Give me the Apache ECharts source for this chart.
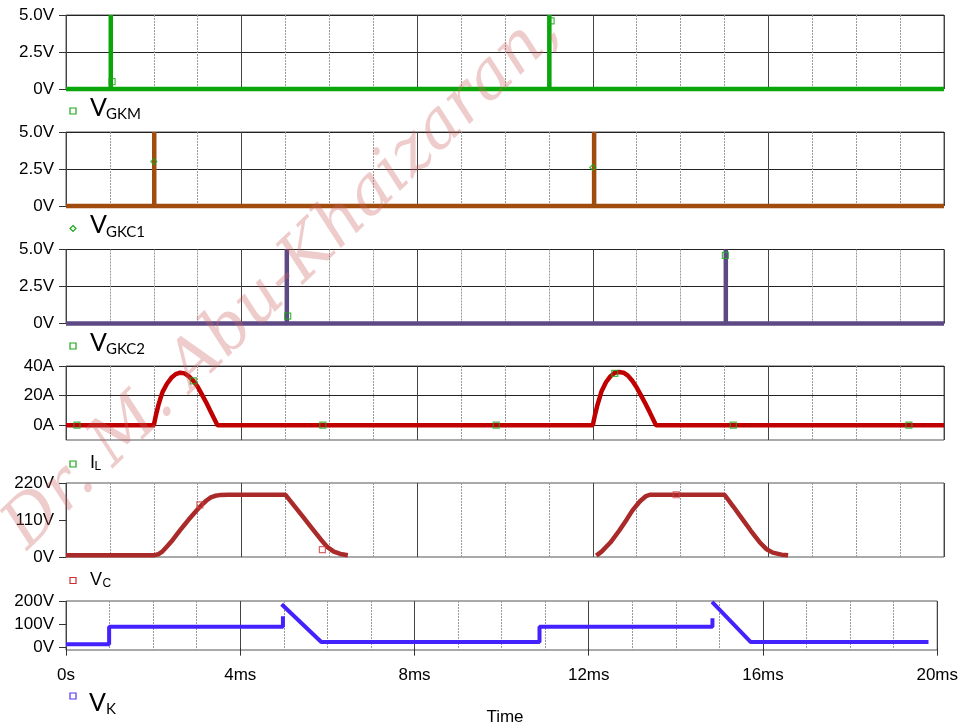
<!DOCTYPE html>
<html>
<head>
<meta charset="utf-8">
<script src="https://cdn.jsdelivr.net/npm/echarts@6/dist/echarts.min.js"></script>
<style>
html,body{margin:0;padding:0;background:#fff;}
#chart{width:961px;height:728px;}
</style>
</head>
<body>
<div id="chart"></div>
<script>
// ---------- DATA (time in ms) ----------
const xTickLabels = ['0s', '4ms', '8ms', '12ms', '16ms', '20ms'];

const vgkmPoints = [[0,0],[1.02,0],[1.02,5],[1.02,0],[11.01,0],[11.01,5],[11.01,0],[20,0]];
const vgkc1Points = [[0,0],[2.01,0],[2.01,5],[2.01,0],[12.03,0],[12.03,5],[12.03,0],[20,0]];
const vgkc2Points = [[0,0],[5.03,0],[5.03,5],[5.03,0],[15.03,0],[15.03,5],[15.03,0],[20,0]];

const ilPoints = [[0,0],[2.0,0],[2.05,7],[2.1,13],[2.15,18],[2.2,22.5],[2.3,28],[2.4,32],[2.5,34.5],[2.6,35.5],
  [2.7,35],[2.8,33],[2.9,30],[3.0,26],[3.1,20.5],[3.2,15],[3.3,9],[3.45,0],
  [12.0,0],[12.05,7],[12.1,13],[12.15,18],[12.2,23],[12.3,29],[12.4,33],[12.5,35.5],[12.6,36],
  [12.7,35.5],[12.8,33.5],[12.9,30],[13.0,25.5],[13.1,20],[13.2,14.5],[13.3,8.5],[13.44,0],[20,0]];

const vcPoints = [[0,5],[2.0,5],[2.1,8],[2.2,17],[2.3,31],[2.4,46],[2.5,63],[2.6,80],[2.7,96],[2.8,112],
  [2.9,127],[3.0,142],[3.1,156],[3.2,168],[3.3,177],[3.4,182],[3.5,184],[3.7,185],[5.0,185],
  [5.2,152],[5.4,119],[5.6,86],[5.8,53],[5.95,30],[6.1,16],[6.25,9],[6.42,5],[6.43,null],
  [12.08,4],[12.2,16],[12.4,43],[12.6,78],[12.77,111],[12.9,138],[13.07,165],[13.2,180],[13.3,185],[15.0,185],
  [15.2,150],[15.4,114],[15.6,78],[15.8,44],[15.95,24],[16.1,13],[16.3,7],[16.45,5]];

const vkPoints = [[0,15],[0.99,15],[0.99,90],[4.98,90],[4.98,135],[4.99,null],
  [4.95,186],[5.86,24],[10.87,24],[10.87,90],[14.84,90],[14.84,126],[14.85,null],
  [14.83,196],[15.72,24],[19.8,24]];

const vgkmMarkers = [[1.05,0.5],[11.05,4.6]];
const vgkc1Markers = [[2.0,3.0],[12.0,2.6]];
const vgkc2Markers = [[5.05,0.5],[15.02,4.6]];
const ilMarkers = [[0.25,0],[2.9,30],[5.85,0],[9.8,0],[12.5,35],[15.2,0],[19.2,0]];
const vcMarkers = [[3.05,155],[5.84,22],[13.9,185]];

const legendMain = ['V','V','V','I','V','V'];
const legendSub = ['GKM','GKC1','GKC2','L','C','K'];

// ---------- LAYOUT ----------
const L = 66, R = 17;
const grids = [
  {top:15, height:74},
  {top:132, height:74},
  {top:249.5, height:74},
  {top:366, height:74},
  {top:483, height:74},
  {top:601, height:49}
];
const lbl = {fontFamily:'Liberation Sans, Arial, sans-serif', fontSize:17, color:'#000'};

const chart = echarts.init(document.getElementById('chart'), null, {renderer:'canvas'});

const xAxes = grids.map((g,i) => ({
  type:'value', gridIndex:i, min:0, max:20, interval:4,
  axisLine:{show:false},
  axisTick:{show:i===5, length:8, lineStyle:{color:'#333'}},
  axisLabel:{show:i===5, margin:17, ...lbl,
    formatter:(v)=> xTickLabels[Math.round(v/4)]},
  splitLine:{show:true, lineStyle:{color:'#444', width:1}},
  minorTick:{show:false, splitNumber:4},
  minorSplitLine:{show:true, lineStyle:{color:'#999', width:1, type:[2,1]}}
}));

function voltFmt(v){ return v===0 ? '0V' : v.toFixed(1)+'V'; }

const yBase = {
  type:'value',
  axisLine:{show:false},
  axisTick:{show:true, inside:false, length:7, lineStyle:{color:'#333'}},
  axisLabel:{margin:12, ...lbl},
  splitLine:{show:true, lineStyle:{color:'#222', width:1}}
};
const yAxes = [
  {...yBase, gridIndex:0, min:0, max:5, interval:2.5, axisLabel:{...yBase.axisLabel, formatter:voltFmt}},
  {...yBase, gridIndex:1, min:0, max:5, interval:2.5, axisLabel:{...yBase.axisLabel, formatter:voltFmt}},
  {...yBase, gridIndex:2, min:0, max:5, interval:2.5, axisLabel:{...yBase.axisLabel, formatter:voltFmt}},
  {...yBase, gridIndex:3, min:-10, max:40,
    axisTick:{...yBase.axisTick, customValues:[0,20,40]},
    axisLabel:{...yBase.axisLabel, customValues:[0,20,40], formatter:(v)=>v+'A'}},
  {...yBase, gridIndex:4, min:0, max:220, interval:110, splitLine:{show:false},
    axisLabel:{...yBase.axisLabel, formatter:(v)=>v+'V'}},
  {...yBase, gridIndex:5, min:-10, max:200, splitLine:{show:false},
    axisTick:{...yBase.axisTick, customValues:[0,100,200]},
    axisLabel:{...yBase.axisLabel, customValues:[0,100,200], formatter:(v)=>v+'V'}}
];

function lineS(i, data, color, w){
  return {type:'line', xAxisIndex:i, yAxisIndex:i, data:data, showSymbol:false, symbol:'none',
    clip:false, connectNulls:false, animation:false, z:3,
    lineStyle:{color:color, width:w, join:'bevel', cap:'butt'}};
}
function markS(i, data, color, sym){
  return {type:'scatter', xAxisIndex:i, yAxisIndex:i, data:data, symbol:sym||'rect', symbolSize:6,
    animation:false, z:4, clip:false,
    itemStyle:{color:'rgba(255,255,255,0)', borderColor:color, borderWidth:1.2}};
}

const green = '#1aa81a';
const series = [
  lineS(0, vgkmPoints, '#0aa50a', 4.5),
  lineS(1, vgkc1Points, '#a04c0e', 4.5),
  lineS(2, vgkc2Points, '#5d4a85', 4.5),
  lineS(3, ilPoints, '#c00000', 4.5),
  lineS(4, vcPoints, '#aa2a2a', 4.5),
  lineS(5, vkPoints, '#4422ff', 4),
  markS(0, vgkmMarkers, green),
  markS(1, vgkc1Markers, green, 'diamond'),
  markS(2, vgkc2Markers, green),
  markS(3, ilMarkers, green),
  markS(4, vcMarkers, '#d04040')
];

// legend-like labels beneath each panel
const legendPos = [
  {mx:73, my:111, x:90, y:107.5, fs:25, sx:106, sy:114.5, sfs:15, ff:'Lato, sans-serif', mc:green, ms:'rect'},
  {mx:73, my:228.5, x:90, y:225, fs:25, sx:106, sy:232, sfs:15, ff:'Lato, sans-serif', mc:green, ms:'diamond'},
  {mx:73, my:346, x:90, y:342.5, fs:25, sx:106, sy:349.5, sfs:15, ff:'Lato, sans-serif', mc:green, ms:'rect'},
  {mx:73, my:464, x:90, y:463.5, fs:18, sx:94.5, sy:467, sfs:12, ff:'Liberation Sans, Arial, sans-serif', mc:green, ms:'rect'},
  {mx:73, my:580.5, x:90, y:580, fs:18, sx:102.5, sy:584, sfs:12, ff:'Liberation Sans, Arial, sans-serif', mc:'#c83030', ms:'rect'},
  {mx:73, my:696, x:89, y:702.5, fs:25, sx:106, sy:709, sfs:15, ff:'Lato, sans-serif', mc:'#5533ff', ms:'rect'}
];
const graphics = [];
legendPos.forEach((p,i)=>{
  if (p.ms === 'diamond') {
    graphics.push({type:'polygon', shape:{points:[[p.mx,p.my-3],[p.mx+3,p.my],[p.mx,p.my+3],[p.mx-3,p.my]]},
      style:{fill:'none', stroke:p.mc, lineWidth:1.2}});
  } else {
    graphics.push({type:'rect', shape:{x:p.mx-3, y:p.my-3, width:6, height:6},
      style:{fill:'none', stroke:p.mc, lineWidth:1.2}});
  }
  graphics.push({type:'text', x:p.x, y:p.y, style:{text:legendMain[i], font:p.fs+'px '+p.ff, fill:'#000', align:'left', verticalAlign:'middle'}});
  graphics.push({type:'text', x:p.sx, y:p.sy, style:{text:legendSub[i], font:p.sfs+'px '+p.ff, fill:'#000', align:'left', verticalAlign:'middle'}});
});
graphics.push({type:'text', x:505, y:717, style:{text:'Time', font:'17px Liberation Sans, Arial, sans-serif', fill:'#000', align:'center', verticalAlign:'middle'}});
// watermark
graphics.push({type:'text', x:283, y:280, rotation:44*Math.PI/180, z:100,
  style:{text:'Dr. M. Abu-Khaizaran,', font:'italic 66px DejaVu Serif, serif', fill:'rgba(205,95,95,0.32)', align:'center', verticalAlign:'middle'}});

chart.setOption({
  animation:false,
  backgroundColor:'#fff',
  grid: grids.map(g=>({left:L, right:R, top:g.top, height:g.height, show:true, borderColor:'#555', borderWidth:1, containLabel:false})),
  xAxis: xAxes,
  yAxis: yAxes,
  series: series,
  graphic: graphics
});
</script>
</body>
</html>
